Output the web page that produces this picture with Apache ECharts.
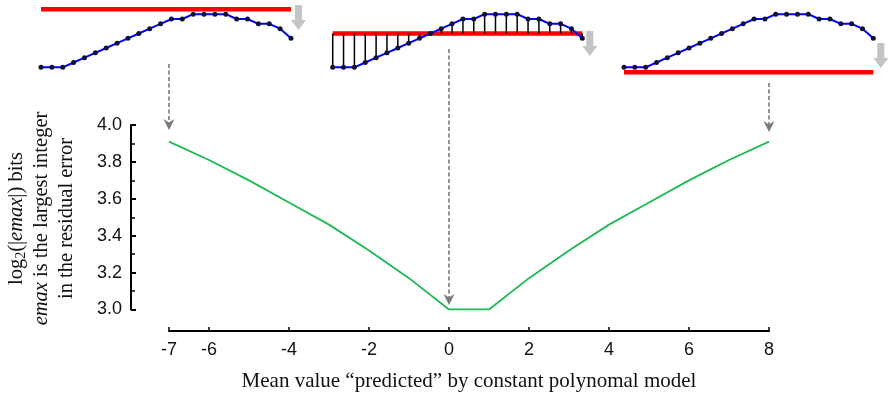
<!DOCTYPE html>
<html><head><meta charset="utf-8">
<script src="https://cdn.jsdelivr.net/npm/echarts@6/dist/echarts.min.js"></script>
<style>html,body{margin:0;padding:0;background:#fff}#c{width:888px;height:393px}</style>
</head><body><div id="c"></div>
<script>
// ---- data ----
const meanValues = [-7,-6,-5,-4,-3,-2,-1,0,1,2,3,4,5,6,7,8];
const bitsValues = [3.91,3.81,3.70,3.58,3.46,3.32,3.17,3.00,3.00,3.17,3.32,3.46,3.58,3.70,3.81,3.91];
const xTickValues = [-7,-6,-4,-2,0,2,4,6,8];
const yTickValues = [3.0,3.2,3.4,3.6,3.8,4.0];
const sampleValues = [0,0,0,1,2,3,4,5,6,7,8,9,10,10,11,11,11,11,10,10,9,9,8,6];
const insetMeans = [12, 7, -1];
const arrowMeans = [-7, 0, 8];

const chart = echarts.init(document.getElementById('c'), null, {renderer:'canvas'});
const SANS = 'Liberation Sans, Arial, sans-serif';
const SERIF = 'Liberation Serif, Times New Roman, serif';

const grids = [
  {left:169, top:125, width:600, height:186.5},
  {left:41, top:4.5, width:250, height:72.5},
  {left:332.7, top:4.5, width:249.6, height:72.5},
  {left:624, top:4.5, width:249.3, height:72.5}
];
const xAxes = [{
  type:'value', gridIndex:0, min:-7, max:8, position:'bottom', offset:21.5,
  axisLine:{show:true, onZero:false, lineStyle:{color:'#000', width:2}},
  axisTick:{show:true, inside:true, length:4, lineStyle:{color:'#000', width:1.5}, customValues:xTickValues},
  axisLabel:{show:true, customValues:xTickValues, margin:10, color:'#111', fontFamily:SANS, fontSize:18},
  splitLine:{show:false},
  name:'Mean value \u201cpredicted\u201d by constant polynomal model',
  nameLocation:'middle', nameGap:40,
  nameTextStyle:{fontFamily:SERIF, fontSize:21, color:'#111'}
}];
const yAxes = [{
  type:'value', gridIndex:0, min:3, max:4, interval:0.2, offset:38, position:'left',
  axisLine:{show:true, onZero:false, lineStyle:{color:'#000', width:2}},
  axisTick:{show:true, inside:true, length:5, lineStyle:{color:'#000', width:2}},
  minorTick:{show:true, splitNumber:2, length:4, lineStyle:{color:'#000', width:1.5}},
  axisLabel:{margin:9, color:'#111', fontFamily:SANS, fontSize:18,
    formatter:v=>yTickValues.some(t=>Math.abs(t-v)<1e-6)?v.toFixed(1):''},
  splitLine:{show:false}
}];
for (let k=1;k<=3;k++){
  xAxes.push({type:'value', gridIndex:k, min:0, max:23, show:false});
  yAxes.push({type:'value', gridIndex:k, min:-2, max:13, show:false});
}

const series = [{
  type:'line', xAxisIndex:0, yAxisIndex:0,
  data:meanValues.map((x,i)=>[x,bitsValues[i]]),
  showSymbol:false, symbol:'none',
  lineStyle:{color:'#1db954', width:1.8}
}];
insetMeans.forEach((m,k)=>{
  series.push({
    type:'line', xAxisIndex:k+1, yAxisIndex:k+1, symbol:'none', silent:true,
    data:[[0,m],[sampleValues.length-1,m]],
    lineStyle:{color:'#ff0000', width:4.5}, z:1
  });
  if (k===1){
    series.push({
      type:'custom', xAxisIndex:k+1, yAxisIndex:k+1, z:2,
      data:sampleValues.map((v,i)=>[i,v]),
      renderItem:(params,api)=>{
        const p1 = api.coord([api.value(0), api.value(1)]);
        const p2 = api.coord([api.value(0), m]);
        return {type:'line', shape:{x1:p1[0],y1:p1[1],x2:p2[0],y2:p2[1]},
          style:{stroke:'#000', lineWidth:1.5}};
      }
    });
  }
  series.push({
    type:'line', xAxisIndex:k+1, yAxisIndex:k+1, z:3,
    data:sampleValues.map((v,i)=>[i,v]),
    symbol:'circle', symbolSize:5, showSymbol:true,
    itemStyle:{color:'#111133', borderWidth:0},
    lineStyle:{color:'#0000ff', width:2}
  });
});

chart.setOption({
  animation:false,
  backgroundColor:'#fff',
  grid:grids, xAxis:xAxes, yAxis:yAxes, series:series
});

// ---- annotations ----
const dashStart = [64, 49, 83];
const dashTip = [130, 305, 132];
const blockTop = [5, 31, 43];
const graphic = [];
graphic.push({
  type:'text', x:42, y:218.5, rotation:Math.PI/2,
  style:{
    text:'{n|log}{s|2}{n|(|}{i|emax}{n||) bits}\n{i|emax}{n| is the largest integer}\n{n|in the residual error}',
    align:'center', verticalAlign:'middle', fill:'#111',
    rich:{
      n:{fontFamily:SERIF, fontSize:20.5, lineHeight:25, fill:'#111'},
      i:{fontFamily:SERIF, fontSize:20.5, fontStyle:'italic', lineHeight:25, fill:'#111'},
      s:{fontFamily:SERIF, fontSize:14, lineHeight:25, padding:[8,0,0,0], fill:'#111'}
    }
  }
});
arrowMeans.forEach((m,k)=>{
  const x = chart.convertToPixel({gridIndex:0},[m,3])[0];
  const tip = dashTip[k];
  graphic.push({type:'line', shape:{x1:x,y1:dashStart[k],x2:x,y2:tip-6},
    style:{stroke:'#888', lineWidth:1.8, lineDash:[4,2.5]}});
  graphic.push({type:'polygon', shape:{points:[[x,tip],[x-5.5,tip-11],[x,tip-7.5],[x+5.5,tip-11]]},
    style:{fill:'#7a7a7a'}});
});
insetMeans.forEach((m,k)=>{
  const cx = chart.convertToPixel({gridIndex:k+1},[sampleValues.length-1,0])[0] + 7.5;
  const t = blockTop[k];
  graphic.push({type:'polygon', shape:{points:[
    [cx-3.5,t],[cx+3.5,t],[cx+3.5,t+15],[cx+7.5,t+15],[cx,t+25],[cx-7.5,t+15],[cx-3.5,t+15]]},
    style:{fill:'#c4c4c4'}});
});
chart.setOption({graphic:graphic});
</script>
</body></html>
